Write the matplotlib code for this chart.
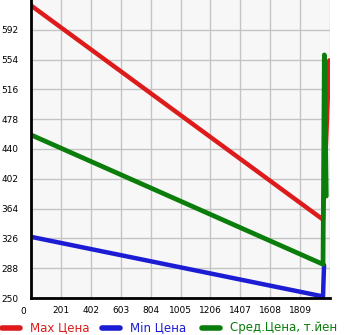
import matplotlib.pyplot as plt
from matplotlib.lines import Line2D

# values
x_max = [0, 1963, 2005]
y_max = [623, 350, 553]
x_min = [0, 1963, 1970]
y_min = [328, 252, 292]
x_avg = [0, 1963, 1972, 1985]
y_avg = [458, 293, 560, 380]

xticks = [0, 201, 402, 603, 804, 1005, 1206, 1407, 1608, 1809]
yticks = [250, 288, 326, 364, 402, 440, 478, 516, 554, 592]

series = [('Max Цена', '#dd1b1b'), ('Min Цена', '#1c1cd4'), ('Сред.Цена, т.йен', '#0b7d0b')]

W, H = 345, 335
fig = plt.figure(figsize=(W / 100, H / 100), dpi=100)
ax = fig.add_axes([31 / W, 1 - 298 / H, 299 / W, 298 / H])
ax.set_facecolor('#f7f7f7')

ax.plot(x_max, y_max, color=series[0][1], lw=3.2, solid_capstyle='round')
ax.plot(x_min, y_min, color=series[1][1], lw=3.2, solid_capstyle='round')
ax.plot(x_avg, y_avg, color=series[2][1], lw=3.4, solid_capstyle='round')

ax.set_xlim(0, 2010)
ax.set_ylim(250, 630)
ax.set_xticks(xticks + [2010])
ax.set_xticklabels([''] + xticks[1:] + [''])
ax.set_yticks(yticks)
ax.grid(True, color='#c4c4c4', lw=1)
ax.set_axisbelow(True)
for s in ['top', 'right']:
    ax.spines[s].set_visible(False)
for s in ['left', 'bottom']:
    ax.spines[s].set_linewidth(2)
ax.tick_params(axis='y', length=0, pad=9, labelsize=6.5)
ax.tick_params(axis='x', length=0, pad=6, labelsize=6.5)
# the "0" label sits left of the axis in the reference
fig.text(23 / W, 1 - 311 / H, str(xticks[0]), fontsize=6.5, ha='center', va='center')

# legend below the plot
lx = [0, 100, 200]
for (label, c), x0 in zip(series, lx):
    fig.add_artist(Line2D([(x0 + 2) / W, (x0 + 20) / W], [1 - 328 / H] * 2,
                          color=c, lw=4, solid_capstyle='round'))
    fig.text((x0 + 30) / W, 1 - 328 / H, label, color=c, fontsize=8.5, va='center')

plt.savefig('out.png', dpi=100)
